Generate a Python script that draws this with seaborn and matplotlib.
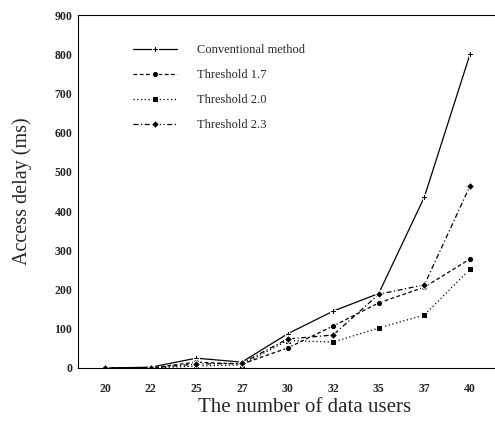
import pandas as pd
import seaborn as sns
import matplotlib.pyplot as plt

# number of data users (plotted at equal spacing)
users = [20, 22, 25, 27, 30, 32, 35, 37, 40]

conventional = [0, 2, 25, 15, 87, 145, 190, 436, 800]
thr_17 = [0, 0, 15, 10, 51, 107, 166, 206, 278]
thr_20 = [0, 0, 5, 8, 70, 66, 102, 135, 252]
thr_23 = [0, 0, 10, 12, 74, 84, 188, 212, 464]

series_names = ["Conventional method", "Threshold 1.7", "Threshold 2.0", "Threshold 2.3"]
series_values = [conventional, thr_17, thr_20, thr_23]

rows = []
for name, vals in zip(series_names, series_values):
    for i, (u, v) in enumerate(zip(users, vals)):
        rows.append({"pos": i, "users": u, "delay": v, "method": name})
df = pd.DataFrame(rows)

sns.set_style("white")
plt.rcParams['font.family'] = ['Liberation Serif', 'DejaVu Serif']

W, H = 495, 429
left_px, right_px, top_px, bottom_px = 78, 505, 15, 368
fig = plt.figure(figsize=(W / 100, H / 100), dpi=100)
ax = fig.add_axes([left_px / W, 1 - bottom_px / H,
                   (right_px - left_px) / W, (bottom_px - top_px) / H])

palette = {n: "black" for n in series_names}
markers = {"Conventional method": "P", "Threshold 1.7": "o",
           "Threshold 2.0": "s", "Threshold 2.3": "D"}
dashes = {"Conventional method": "",
          "Threshold 1.7": (3, 2),
          "Threshold 2.0": (1, 2),
          "Threshold 2.3": (4, 2, 1, 2)}

sns.lineplot(data=df, x="pos", y="delay", hue="method", style="method",
             palette=palette, markers=markers, dashes=dashes,
             markersize=4.5, linewidth=0.9, ax=ax)

# tick 20 sits at ~105 px, 40 at ~470 px
step = (470 - 105) / 8
ax.set_xlim(-(105 - left_px) / step, 8 + (right_px - 470) / step)
ax.set_ylim(0, 900)
ax.set_xticks(range(len(users)))
ax.set_xticklabels([str(u) for u in users])
ax.set_yticks(range(0, 901, 100))
ax.tick_params(axis="x", labelsize=8.5, length=2, direction="in", pad=11)
ax.tick_params(axis="y", labelsize=8.5, length=2, direction="in", pad=4)
for lab in ax.get_xticklabels() + ax.get_yticklabels():
    lab.set_fontweight("bold")

ax.set_xlabel("The number of data users", fontsize=15)
ax.set_ylabel("Access delay (ms)", fontsize=14.5)
ax.xaxis.set_label_coords((305 - left_px) / (right_px - left_px), -(407 - bottom_px) / (bottom_px - top_px),
                          transform=ax.transAxes)
ax.xaxis.label.set_va("center")
ax.yaxis.set_label_coords(-(78 - 22) / (right_px - left_px), 0.5, transform=ax.transAxes)
ax.yaxis.label.set_va("center")

for side in ["top", "left", "bottom", "right"]:
    ax.spines[side].set_color("black")
    ax.spines[side].set_linewidth(0.8)

leg = ax.legend(loc="upper left",
                bbox_to_anchor=((133 - left_px) / (right_px - left_px), 1 - (44 - top_px) / (bottom_px - top_px)),
                frameon=False, fontsize=9, borderpad=0, borderaxespad=0,
                handlelength=3.5, handletextpad=1.6, labelspacing=1.05)

fig.savefig("out.png", dpi=100)
